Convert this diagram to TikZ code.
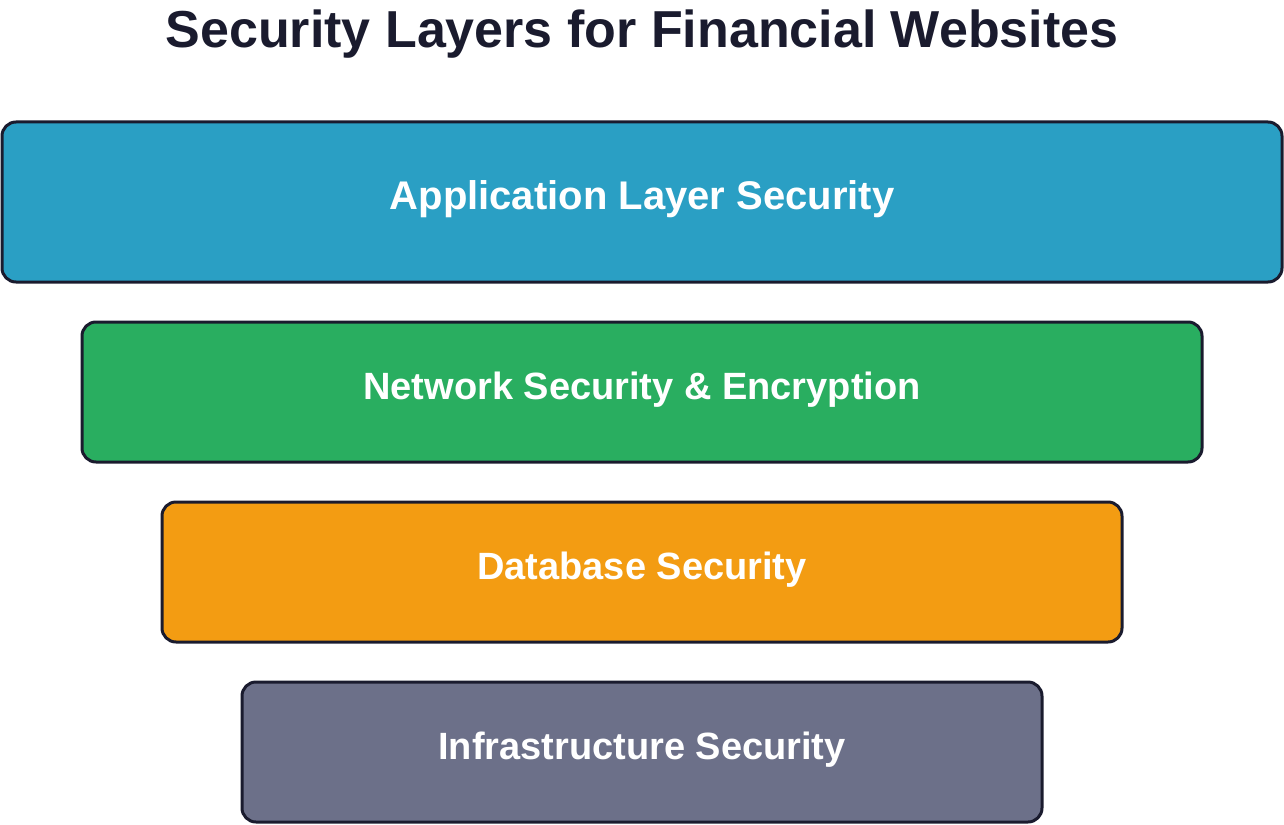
\documentclass[tikz,border=0pt]{standalone}
\usepackage{fontspec}
\setmainfont{Liberation Sans}
\definecolor{c1}{HTML}{2A9FC4}
\definecolor{c2}{HTML}{29AE60}
\definecolor{c3}{HTML}{F39C12}
\definecolor{c4}{HTML}{6C7089}
\definecolor{ink}{HTML}{1A1B2E}
\begin{document}
\begin{tikzpicture}[x=1pt,y=-1pt,
  layer/.style={draw=ink,line width=3pt,rounded corners=14pt},
  lab/.style={text=white,font=\fontsize{38}{44}\selectfont\bfseries}]
\useasboundingbox (0,0) rectangle (1284,824);
\node[anchor=base,text=ink,font=\fontsize{52}{60}\selectfont\bfseries] (title) at (642,48) {Security Layers for Financial Websites};
\draw[layer,fill=c1] (2,122) rectangle (1282,282);
\node[lab,font=\fontsize{40}{46}\selectfont\bfseries] (l1) at (642,199) {Application Layer Security};
\draw[layer,fill=c2] (82,322) rectangle (1202,462);
\node[lab] (l2) at (642,390) {Network Security \& Encryption};
\draw[layer,fill=c3] (162,502) rectangle (1122,642);
\node[lab] (l3) at (642,570) {Database Security};
\draw[layer,fill=c4] (242,682) rectangle (1042,822);
\node[lab] (l4) at (642,750) {Infrastructure Security};
\end{tikzpicture}
\end{document}
